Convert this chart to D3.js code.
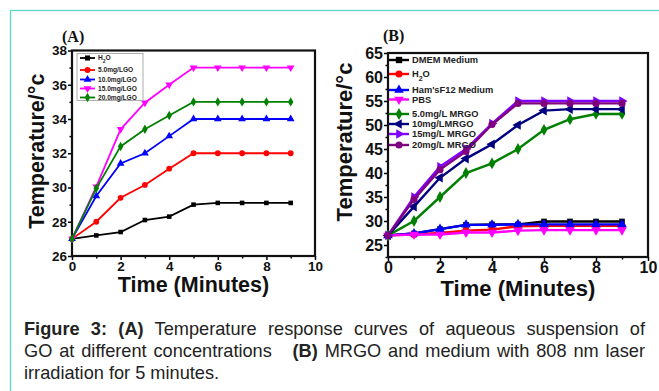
<!DOCTYPE html>
<html>
<head>
<meta charset="utf-8">
<script src="https://cdn.jsdelivr.net/npm/d3@7"></script>
<style>
  html, body { margin: 0; padding: 0; background: #fff; }
  svg { display: block; }
</style>
</head>
<body>
<div id="chart"></div>
<script>
const minutes = [0, 1, 2, 3, 4, 5, 6, 7, 8, 9];

// panel A: GO suspensions
const seriesA = ['H2O', '5.0mg/LGO', '10.0mg/LGO', '15.0mg/LGO', '20.0mg/LGO'];
const aH2O  = [27, 27.2, 27.4, 28.1, 28.3, 29.0, 29.1, 29.1, 29.1, 29.1];
const aGO5  = [27, 28.0, 29.4, 30.15, 31.1, 32, 32, 32, 32, 32];
const aGO10 = [27, 29.5, 31.4, 32.0, 33.0, 34, 34, 34, 34, 34];
const aGO15 = [27, 30.05, 33.4, 34.95, 36.0, 37, 37, 37, 37, 37];
const aGO20 = [27, 29.95, 32.4, 33.4, 34.2, 35, 35, 35, 35, 35];
const ticksA = [26, 28, 30, 32, 34, 36, 38];

// panel B: MRGO and media
const seriesB = ['DMEM Medium', 'H2O', "Ham'sF12 Medium", 'PBS', '5.0mg/L MRGO', '10mg/LMRGO', '15mg/L MRGO', '20mg/L MRGO'];
const bDMEM  = [27, 27.4, 28.3, 29.2, 29.3, 29.3, 29.9, 29.9, 29.9, 29.9];
const bH2O   = [27, 27.2, 27.5, 28.0, 28.2, 28.9, 29.0, 29.0, 29.0, 29.0];
const bHams  = [27, 27.4, 28.3, 29.2, 29.2, 29.3, 29.3, 29.3, 29.3, 29.3];
const bPBS   = [27, 27.2, 27.2, 27.6, 27.6, 28.0, 28.1, 28.1, 28.1, 28.1];
const bMR5   = [27, 30, 35, 40, 42, 45, 49, 51.2, 52.3, 52.3];
const bMR10  = [27, 33, 39, 43, 46, 50, 53, 53.3, 53.3, 53.3];
const bMR15  = [27, 35, 41.3, 45, 50.3, 55, 55, 55, 55, 55];
const bMR20  = [27, 34.5, 40.7, 44.5, 50.1, 54.5, 54.5, 54.5, 54.5, 54.5];
const ticksB = [25, 30, 35, 40, 45, 50, 55, 60, 65];

const xTicks = [0, 2, 4, 6, 8, 10];

const W = 659, H = 391;
const svg = d3.select('#chart').append('svg')
  .attr('width', W)
  .attr('height', H);

svg.append('rect').attr('width', W).attr('height', H).attr('fill', '#fff');

// teal frame round the figure
svg.append('rect')
  .attr('x', 10.5).attr('y', 10.5)
  .attr('width', 700).attr('height', 500)
  .attr('fill', 'none')
  .attr('stroke', '#5dd6c4')
  .attr('stroke-width', 1.3);

const sym = {
  square: d3.symbolSquare,
  circle: d3.symbolCircle,
  up: d3.symbolTriangle,
  down: d3.symbolTriangle,
  left: d3.symbolTriangle,
  right: d3.symbolTriangle,
  diamond: d3.symbolDiamond
};
const rot = { up: 0, down: 180, left: -90, right: 90, square: 0, circle: 0, diamond: 0 };

function drawPanel(p) {
  const g = svg.append('g');
  const x = d3.scaleLinear().domain([0, 10]).range([p.left, p.right]);
  const y = d3.scaleLinear().domain(p.yDomain).range([p.bottom, p.top]);

  // minor ticks first
  const minorX = d3.range(1, 10, 2);
  g.append('g')
    .attr('transform', `translate(0,${p.bottom})`)
    .call(d3.axisBottom(x).tickValues(minorX).tickSize(p.minorLen).tickFormat(''))
    .call(a => a.select('.domain').remove())
    .selectAll('line').attr('stroke', '#000').attr('stroke-width', 1.5);
  g.append('g')
    .attr('transform', `translate(${p.left},0)`)
    .call(d3.axisLeft(y).tickValues(p.minorY).tickSize(p.minorLen).tickFormat(''))
    .call(a => a.select('.domain').remove())
    .selectAll('line').attr('stroke', '#000').attr('stroke-width', 1.5);

  const xAxis = g.append('g')
    .attr('transform', `translate(0,${p.bottom})`)
    .call(d3.axisBottom(x).tickValues(xTicks).tickSize(p.majorLen).tickPadding(1).tickFormat(d3.format('d')));
  const yAxis = g.append('g')
    .attr('transform', `translate(${p.left},0)`)
    .call(d3.axisLeft(y).tickValues(p.yTicks).tickSize(p.majorLen).tickPadding(1).tickFormat(d3.format('d')));
  [xAxis, yAxis].forEach(a => {
    a.select('.domain').remove();
    a.selectAll('line').attr('stroke', '#000').attr('stroke-width', 1.5);
    a.selectAll('text')
      .attr('fill', '#111')
      .attr('font-family', 'Arial, Liberation Sans, sans-serif')
      .attr('font-weight', 'bold')
      .attr('font-size', p.tickFont);
  });

  // frame
  g.append('rect')
    .attr('x', p.left).attr('y', p.top)
    .attr('width', p.right - p.left).attr('height', p.bottom - p.top)
    .attr('fill', 'none').attr('stroke', '#111').attr('stroke-width', 2.2);

  const line = d3.line().x((d, i) => x(minutes[i])).y(d => y(d));

  p.series.forEach(s => {
    g.append('path')
      .datum(s.values)
      .attr('d', line)
      .attr('fill', 'none')
      .attr('stroke', s.color)
      .attr('stroke-width', p.lineWidth);
    g.selectAll(null)
      .data(s.values)
      .enter()
      .append('path')
      .attr('d', d3.symbol().type(sym[s.shape]).size(s.shape === 'square' ? p.markSize * 0.8 : p.markSize))
      .attr('transform', (d, i) => `translate(${x(minutes[i])},${y(d)}) rotate(${rot[s.shape]})`)
      .attr('fill', s.color);
  });

  // legend
  if (p.legendBox) {
    g.append('rect')
      .attr('x', p.legendBox[0]).attr('y', p.legendBox[1])
      .attr('width', p.legendBox[2]).attr('height', p.legendBox[3])
      .attr('fill', '#fff').attr('stroke', '#999').attr('stroke-width', 0.8);
  }
  p.series.forEach((s, i) => {
    const ly = p.legendY[i];
    g.append('line')
      .attr('x1', p.legendX).attr('x2', p.legendX + p.legendLen)
      .attr('y1', ly).attr('y2', ly)
      .attr('stroke', s.color).attr('stroke-width', p.lineWidth);
    g.append('path')
      .attr('d', d3.symbol().type(sym[s.shape]).size(p.markSize))
      .attr('transform', `translate(${p.legendX + p.legendLen / 2},${ly}) rotate(${rot[s.shape]})`)
      .attr('fill', s.color);
    const t = g.append('text')
      .attr('x', p.legendX + p.legendLen + 3)
      .attr('y', ly)
      .attr('dy', '0.35em')
      .attr('font-family', 'Arial, Liberation Sans, sans-serif')
      .attr('font-weight', 'bold')
      .attr('font-size', p.legendFont)
      .attr('fill', '#222');
    if (s.name === 'H2O') {
      t.append('tspan').text('H');
      t.append('tspan').attr('baseline-shift', 'sub').attr('font-size', p.legendFont * 0.75).text('2');
      t.append('tspan').text('O');
    } else {
      t.text(s.name);
    }
  });

  // axis titles
  g.append('text')
    .attr('transform', `translate(${p.yTitleX},${(p.top + p.bottom) / 2 + p.yTitleShift}) rotate(-90)`)
    .attr('text-anchor', 'middle')
    .attr('font-family', 'Arial, Liberation Sans, sans-serif')
    .attr('font-weight', 'bold')
    .attr('font-size', p.titleFont)
    .attr('fill', '#111')
    .text('Temperature/°c');
  g.append('text')
    .attr('x', (p.left + p.right) / 2)
    .attr('y', p.xTitleY)
    .attr('text-anchor', 'middle')
    .attr('font-family', 'Arial, Liberation Sans, sans-serif')
    .attr('font-weight', 'bold')
    .attr('font-size', p.titleFont)
    .attr('fill', '#111')
    .text('Time (Minutes)');
  g.append('text')
    .attr('x', p.tagX).attr('y', p.tagY)
    .attr('font-family', 'Liberation Serif, Times New Roman, serif')
    .attr('font-weight', 'bold')
    .attr('font-size', 16)
    .attr('fill', '#111')
    .text(p.tag);
}

const colorsA = ['#000000', '#ff0000', '#0000ff', '#ff00ff', '#008000'];
const shapesA = ['square', 'circle', 'up', 'down', 'diamond'];
const valuesA = [aH2O, aGO5, aGO10, aGO15, aGO20];

drawPanel({
  tag: '(A)', tagX: 62, tagY: 42,
  left: 72, right: 315, top: 50.5, bottom: 256,
  yDomain: [26, 38], yTicks: ticksA, minorY: d3.range(27, 38, 2),
  majorLen: 4, minorLen: 2.5, tickFont: 13.5,
  lineWidth: 1.8, markSize: 26,
  series: seriesA.map((n, i) => ({ name: n, values: valuesA[i], color: colorsA[i], shape: shapesA[i] })),
  legendBox: [77, 53.5, 66, 47],
  legendX: 80, legendLen: 15, legendY: [58, 70, 79.5, 88.5, 97.5], legendFont: 6.6,
  yTitleX: 44, yTitleShift: -2, titleFont: 21.5, xTitleY: 292
});

const colorsB = ['#000000', '#ff0000', '#0000ff', '#ff00ff', '#008000', '#000080', '#8000ff', '#800080'];
const shapesB = ['square', 'circle', 'up', 'down', 'diamond', 'left', 'right', 'circle'];
const valuesB = [bDMEM, bH2O, bHams, bPBS, bMR5, bMR10, bMR15, bMR20];

drawPanel({
  tag: '(B)', tagX: 383, tagY: 41,
  left: 388, right: 648, top: 53, bottom: 257,
  yDomain: [22.5, 65], yTicks: ticksB, minorY: d3.range(22.5, 65, 5),
  majorLen: 4, minorLen: 2.5, tickFont: 16,
  lineWidth: 2.4, markSize: 40,
  series: seriesB.map((n, i) => ({ name: n, values: valuesB[i], color: colorsB[i], shape: shapesB[i] })),
  legendBox: null,
  legendX: 389, legendLen: 20, legendY: [60, 74, 90, 99.5, 114, 124, 134, 145], legendFont: 9.3,
  yTitleX: 352, yTitleShift: -13, titleFont: 22, xTitleY: 296
});

// caption, justified through word spacing
const capFont = 'Liberation Sans, Arial, sans-serif';
const capWidth = 621;
const caption = [
  { y: 335, justify: true, parts: [['Figure 3: (A)', true], [' Temperature response curves of aqueous suspension of', false]] },
  { y: 357, justify: true, parts: [['GO at different concentrations   ', false], ['(B)', true], [' MRGO and medium with 808 nm laser', false]] },
  { y: 379, justify: false, parts: [['irradiation for 5 minutes.', false]] }
];
caption.forEach(c => {
  const t = svg.append('text')
    .attr('x', 24).attr('y', c.y)
    .attr('font-family', capFont)
    .attr('font-size', 18.2)
    .attr('fill', '#222')
    .style('white-space', 'pre');
  c.parts.forEach(([s, b]) => t.append('tspan').attr('font-weight', b ? 'bold' : 'normal').text(s));
  if (c.justify) {
    const natural = t.node().getComputedTextLength();
    const gaps = c.parts.map(p => p[0]).join('').split(' ').length - 1;
    t.attr('word-spacing', (capWidth - natural) / gaps);
  }
});
</script>
</body>
</html>
